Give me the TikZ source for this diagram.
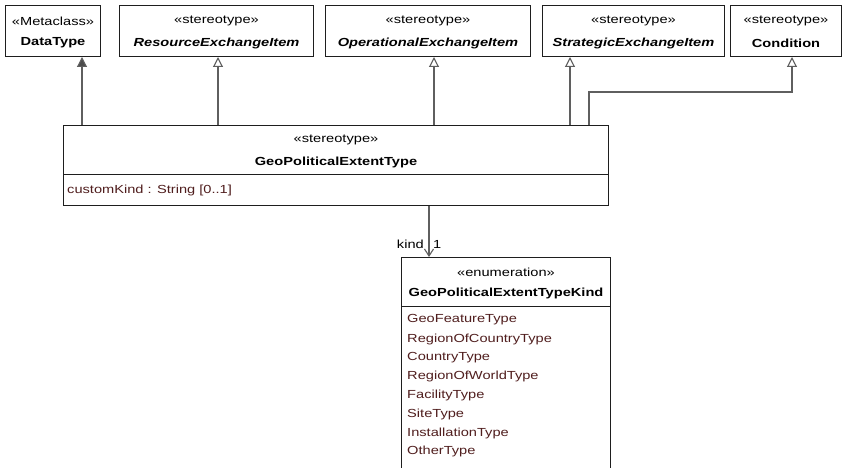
\documentclass[tikz,border=0pt]{standalone}
\usepackage{fontspec}
\setmainfont{Liberation Sans}[FakeStretch=1.25]
\usetikzlibrary{arrows.meta}
\definecolor{attr}{RGB}{80,30,30}
\definecolor{conn}{RGB}{95,95,95}
\definecolor{border}{RGB}{30,30,30}
\begin{document}
\begin{tikzpicture}[x=1pt,y=-1pt,
  font=\fontsize{11.7}{13}\selectfont,
  box/.style={draw=border, line width=1pt, fill=white, inner sep=0pt, anchor=north west},
  divider/.style={draw=border, line width=0.9pt},
  txt/.style={inner sep=0pt, anchor=center},
  attrtxt/.style={inner sep=0pt, anchor=west, text=attr},
  gen/.style={draw=conn, line width=1.1pt, -{Triangle[open,length=10pt,width=10pt,fill=white]}},
  fgen/.style={draw=conn, line width=1.1pt, -{Triangle[length=10pt,width=10pt,fill=conn!80!black]}},
  assoc/.style={draw=conn, line width=1.1pt, -{Straight Barb[length=7pt,width=9pt]}}]
\useasboundingbox (0,0) rectangle (847,468);
\fill[white] (0,0) rectangle (847,468);

% top boxes
\node[box, minimum width=95pt, minimum height=51pt] (dt) at (5,5) {};
\node[box, minimum width=194pt, minimum height=51pt] (rei) at (119,5) {};
\node[box, minimum width=205pt, minimum height=51pt] (oei) at (325,5) {};
\node[box, minimum width=182pt, minimum height=51pt] (sei) at (542,5) {};
\node[box, minimum width=111pt, minimum height=51pt] (cond) at (730,5) {};

\node[txt] (dts) at (dt.center |- 0,21) {«Metaclass»};
\node[txt] (dtn) at (dt.center |- 0,43) {\bfseries DataType};
\node[txt] (reis) at (rei.center |- 0,21) {«stereotype»};
\node[txt] (rein) at (rei.center |- 0,43) {\bfseries\itshape ResourceExchangeItem};
\node[txt] (oeis) at (oei.center |- 0,21) {«stereotype»};
\node[txt] (oein) at (oei.center |- 0,43) {\bfseries\itshape OperationalExchangeItem};
\node[txt] (seis) at (sei.center |- 0,21) {«stereotype»};
\node[txt] (sein) at (sei.center |- 0,43) {\bfseries\itshape StrategicExchangeItem};
\node[txt] (conds) at (cond.center |- 0,21) {«stereotype»};
\node[txt] (condn) at (cond.center |- 0,43) {\bfseries Condition};

% main box
\node[box, minimum width=545pt, minimum height=80pt] (main) at (63,125) {};
\draw[divider] (main.west |- 0,174) coordinate (mdl) -- (main.east |- 0,174) coordinate (mdr);
\node[txt] (mains) at (main.center |- 0,140) {«stereotype»};
\node[txt] (mainn) at (main.center |- 0,162) {\bfseries GeoPoliticalExtentType};
\node[attrtxt] (mattr) at (67,190) {customKind : String [0..1]};

% enumeration box
\node[box, minimum width=209pt, minimum height=230pt] (enum) at (401,257) {};
\draw[divider] (enum.west |- 0,306) coordinate (edl) -- (enum.east |- 0,306) coordinate (edr);
\node[txt] (enums) at (enum.center |- 0,272) {«enumeration»};
\node[txt] (enumn) at (enum.center |- 0,293) {\bfseries GeoPoliticalExtentTypeKind};
\node[attrtxt] (l1) at (407,320) {GeoFeatureType};
\node[attrtxt] (l2) at (407,339) {RegionOfCountryType};
\node[attrtxt] (l3) at (407,357.5) {CountryType};
\node[attrtxt] (l4) at (407,376.5) {RegionOfWorldType};
\node[attrtxt] (l5) at (407,395) {FacilityType};
\node[attrtxt] (l6) at (407,414) {SiteType};
\node[attrtxt] (l7) at (407,433) {InstallationType};
\node[attrtxt] (l8) at (407,451.5) {OtherType};

% generalizations
\coordinate (pdt) at (82,0);
\coordinate (prei) at (218,0);
\coordinate (poei) at (434,0);
\coordinate (psei) at (570,0);
\coordinate (pcond) at (589,0);
\coordinate (pcondr) at (792,92);
\draw[fgen] (main.north -| pdt) -- (dt.south -| pdt);
\draw[gen] (main.north -| prei) -- (rei.south -| prei);
\draw[gen] (main.north -| poei) -- (oei.south -| poei);
\draw[gen] (main.north -| psei) -- (sei.south -| psei);
\draw[gen] (main.north -| pcond) |- (pcondr) -- (cond.south -| pcondr);

% association
\coordinate (pas) at (429,0);
\draw[assoc] (main.south -| pas) -- (enum.north -| pas);
\node[inner sep=0pt, anchor=east] (kind) at (424,244) {kind};
\node[inner sep=0pt, anchor=west] (mult) at (433,244) {1};
\end{tikzpicture}
\end{document}
